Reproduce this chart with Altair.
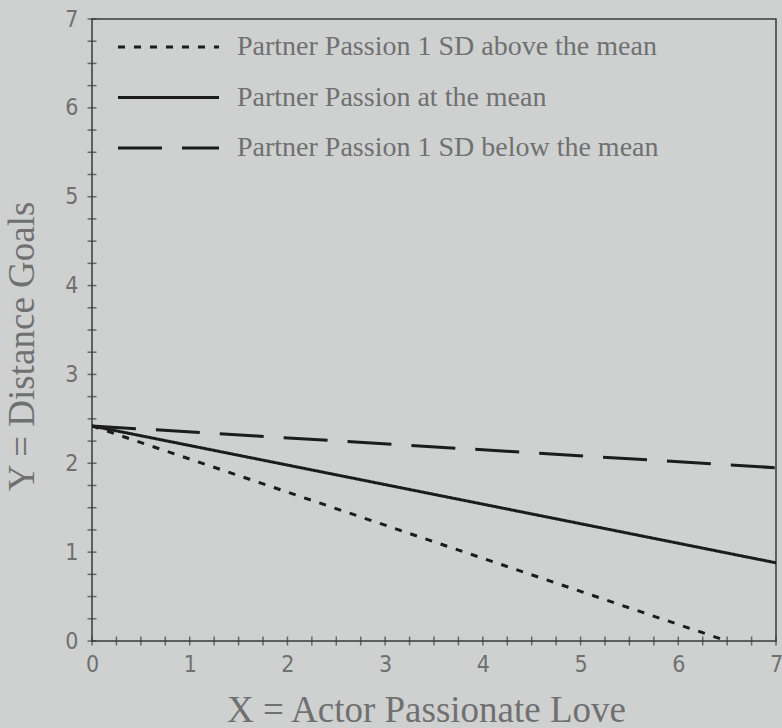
import altair as alt
import pandas as pd

# ---- data ----
series = [
    "Partner Passion 1 SD above the mean",
    "Partner Passion at the mean",
    "Partner Passion 1 SD below the mean",
]
x_start = [0.0, 0.0, 0.0]
x_end = [6.5, 7.0, 7.0]
y_start = [2.42, 2.42, 2.42]
y_end = [0.0, 0.88, 1.95]
tick_values = [i * 0.25 for i in range(29)]  # 0 .. 7 step 0.25
dash_styles = [[7, 9], [1, 0], [44, 20]]

rows = []
for s, xs, xe, ys, ye in zip(series, x_start, x_end, y_start, y_end):
    rows.append({"series": s, "x": xs, "y": ys})
    rows.append({"series": s, "x": xe, "y": ye})
df = pd.DataFrame(rows)
df_leg = pd.DataFrame({"series": series})
df_ticks = pd.DataFrame({"x": tick_values, "y": tick_values})

W, H = 684, 622
INK = "#1c1c1c"
AX = "#3a3a3a"
TXT = "#707070"
SANS = "Liberation Sans Narrow, Arial Narrow, DejaVu Sans Condensed, sans-serif"
SERIF = "Liberation Serif, Times New Roman, serif"

dash_scale = alt.Scale(domain=series, range=dash_styles)
lin = alt.Scale(domain=[0, 7], nice=False, zero=False)

common_axis = dict(
    values=tick_values,
    format="d",
    labelExpr="datum.value % 1 == 0 ? datum.label : ''",
    domain=False,
    grid=False,
    ticks=False,
    labelFont=SANS,
    labelFontSize=23,
    labelColor=TXT,
    labelOverlap=False,
    labelFlush=False,
    titleFont=SERIF,
    titleFontSize=37,
    titleFontWeight="normal",
    titleColor=TXT,
)

x_axis = alt.Axis(
    title="X = Actor Passionate Love",
    labelPadding=23,
    labelBaseline="middle",
    titleX=334,
    titleY=80,
    titleBaseline="alphabetic",
    **common_axis,
)
y_axis = alt.Axis(
    title="Y = Distance Goals",
    labelPadding=14,
    titleX=-59,
    titleY=327,
    titleAngle=-90,
    titleBaseline="alphabetic",
    **common_axis,
)

lines = alt.Chart(df).mark_line(color=INK, strokeWidth=3, clip=True).encode(
    x=alt.X("x:Q", scale=lin, axis=x_axis),
    y=alt.Y("y:Q", scale=lin, axis=y_axis),
    strokeDash=alt.StrokeDash("series:N", scale=dash_scale, legend=None),
    detail="series:N",
)

# cross-shaped ticks centred on the frame lines
x_ticks = alt.Chart(df_ticks).mark_tick(
    orient="vertical", size=9, thickness=1.5, color=AX
).encode(x=alt.X("x:Q", scale=lin, axis=x_axis), y=alt.value(H))

y_ticks = alt.Chart(df_ticks).mark_tick(
    orient="horizontal", size=9, thickness=1.5, color=AX
).encode(y=alt.Y("y:Q", scale=lin, axis=None), x=alt.value(0))

leg_y = alt.Y(
    "series:N",
    sort=series,
    axis=None,
    scale=alt.Scale(type="point", domain=series, range=[28, 129], padding=0),
)

leg_rules = alt.Chart(df_leg).mark_rule(color=INK, strokeWidth=3).encode(
    x=alt.value(26),
    x2=alt.value(127),
    y=leg_y,
    strokeDash=alt.StrokeDash("series:N", scale=dash_scale, legend=None),
)

leg_text = alt.Chart(df_leg).mark_text(
    align="left", baseline="middle", font=SERIF, fontSize=28, color=TXT
).encode(
    x=alt.value(145),
    y=leg_y,
    text="series:N",
)

chart = (
    alt.layer(lines, x_ticks, y_ticks, leg_rules, leg_text)
    .resolve_scale(y="independent")
    .properties(
        width=W,
        height=H,
        background="#cfd1d1",
        padding={"left": 92, "top": 19, "right": 6, "bottom": 87},
        autosize=alt.AutoSizeParams(type="none"),
    )
    .configure_view(stroke=AX, strokeWidth=1.5)
)

chart.save("out.html", embed_options={"renderer": "svg", "actions": False})
